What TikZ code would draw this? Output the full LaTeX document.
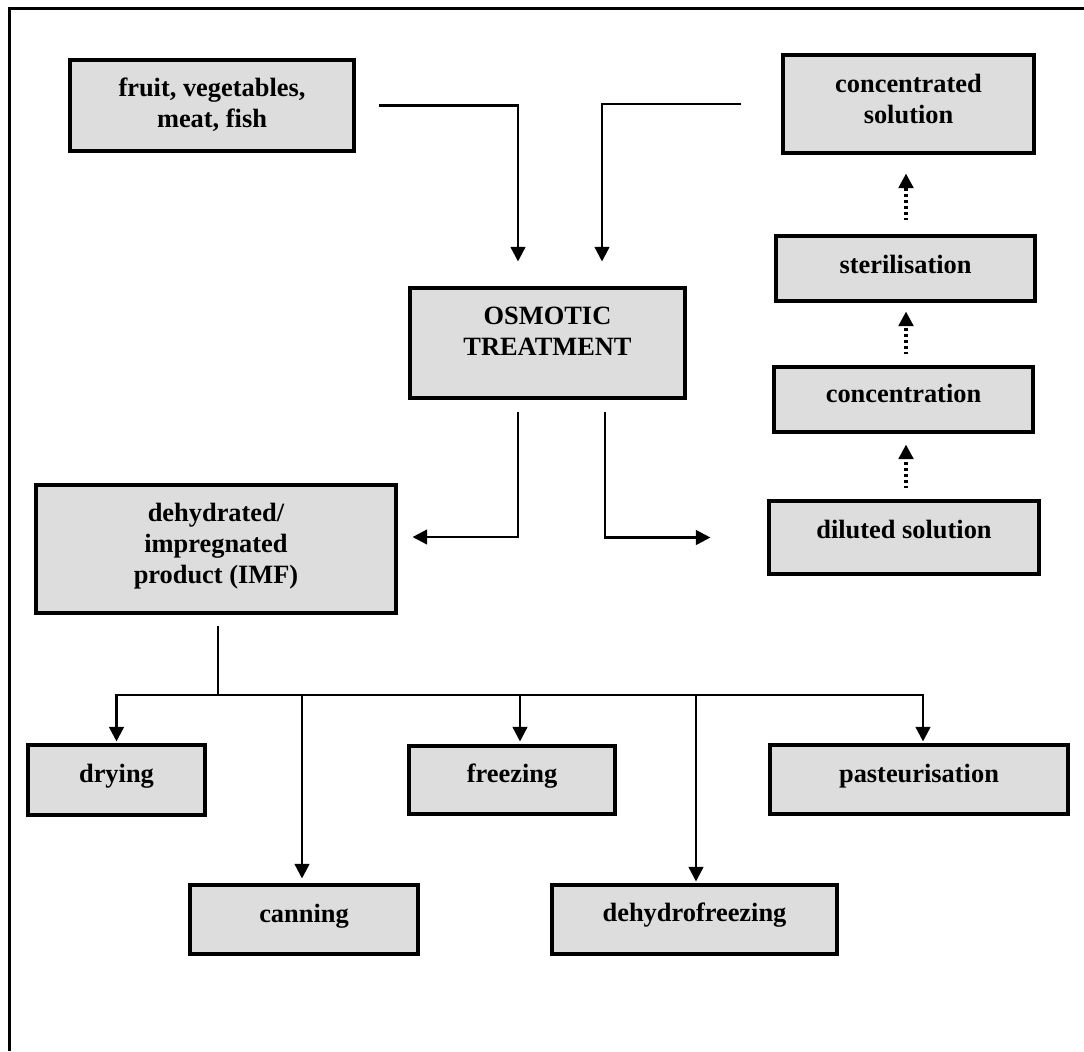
\documentclass[tikz,border=0pt]{standalone}
\usepackage{fontspec}
\setmainfont{Liberation Serif}
\usetikzlibrary{arrows.meta}
\definecolor{boxgray}{RGB}{221,221,221}
\begin{document}
\begin{tikzpicture}[x=0.75pt,y=-0.75pt,
  box/.style={draw=black, line width=2.3pt, fill=boxgray, inner sep=0pt},
  txt/.style={font=\bfseries\fontsize{19.8}{23.25}\selectfont, align=center, inner sep=0pt, anchor=base},
  conn/.style={line width=1.9pt},
  arr/.style={conn, -{Triangle[length=11pt,width=11pt]}},
  darr/.style={line width=2.6pt, dash pattern=on 2.2pt off 2.2pt, -{Triangle[length=11pt,width=11pt]}}]
\useasboundingbox (0,0) rectangle (1084,1051);
% frame
\draw[line width=2.25pt] (9,1051) -- (9,8) -- (1084,8);

% boxes
\node[box, minimum width=213pt, minimum height=68.25pt] (fruit) at (212,105.5) {};
\node[box, minimum width=188.25pt, minimum height=73.5pt] (conc) at (908.5,104) {};
\node[box, minimum width=206.25pt, minimum height=82.5pt] (osm) at (547.5,343) {};
\node[box, minimum width=194.25pt, minimum height=48.75pt] (steril) at (905.5,268.5) {};
\node[box, minimum width=194.25pt, minimum height=48.75pt] (concn) at (903.5,399.5) {};
\node[box, minimum width=202.5pt, minimum height=54.75pt] (dil) at (904,537.5) {};
\node[box, minimum width=270pt, minimum height=96pt] (dehy) at (216,549) {};
\node[box, minimum width=132.75pt, minimum height=52.5pt] (dry) at (116.5,780) {};
\node[box, minimum width=171pt, minimum height=51.75pt] (can) at (304,919.5) {};
\node[box, minimum width=154.5pt, minimum height=51pt] (frz) at (512,780) {};
\node[box, minimum width=213.75pt, minimum height=51.75pt] (dfz) at (694.5,919.5) {};
\node[box, minimum width=223.5pt, minimum height=51.75pt] (past) at (919,779.5) {};

% texts (base anchor = baseline of last line)
\node[txt] (tfruit) at (212,127) {fruit, vegetables,\\meat, fish};
\node[txt] (tconc) at (908.5,123) {concentrated\\solution};
\node[txt] (tosm) at (547.5,355) {OSMOTIC\\TREATMENT};
\node[txt] (tsteril) at (905.5,273) {sterilisation};
\node[txt] (tconcn) at (903.5,402) {concentration};
\node[txt] (tdil) at (904,538) {diluted solution};
\node[txt] (tdehy) at (216,583) {dehydrated/\\impregnated\\product (IMF)};
\node[txt] (tdry) at (116.5,782) {drying};
\node[txt] (tcan) at (304,922) {canning};
\node[txt] (tfrz) at (512,782) {freezing};
\node[txt] (tdfz) at (694.5,921) {dehydrofreezing};
\node[txt] (tpast) at (919,782) {pasteurisation};

% helper coordinates
\coordinate (xa) at (518,0);
\coordinate (xb) at (602,0);
\coordinate (xc) at (605,0);
\coordinate (dx) at (906,0);
\coordinate (busR) at (923,695);
\coordinate (cj) at (302,695);
\coordinate (fj) at (520,695);
\coordinate (dj) at (696,695);
\coordinate (hj) at (218,695);

% top connectors
\draw[arr, shorten <=17.25pt, shorten >=18.75pt] (fruit.east) -| (osm.north -| xa);
\draw[arr, shorten <=30pt, shorten >=18.75pt] (conc.west) -| (osm.north -| xb);
\draw[arr, shorten <=9pt, shorten >=11.25pt] (osm.south -| xa) |- ([yshift=9pt]dehy.east);
\draw[arr, shorten <=9pt, shorten >=42.75pt] (osm.south -| xc) |- (dil.west);

% dotted chain
\draw[darr, shorten <=8.25pt, shorten >=8.25pt] (dil.north -| dx) -- (concn.south -| dx);
\draw[darr, shorten <=8.25pt, shorten >=6.75pt] (concn.north -| dx) -- (steril.south -| dx);
\draw[darr, shorten <=10.5pt, shorten >=14.25pt] (steril.north -| dx) -- (conc.south -| dx);

% bottom tree
\draw[conn, shorten <=8.25pt] (dehy.south -| hj) -- (hj);
\draw[conn, {Triangle[length=11pt,width=11pt]}-{Triangle[length=11pt,width=11pt]}, shorten <=1.5pt, shorten >=1.5pt] (dry.north) |- (busR) -- (past.north -| busR);
\draw[arr, shorten >=3.75pt] (cj) -- (can.north -| cj);
\draw[arr, shorten >=2.25pt] (fj) -- (frz.north -| fj);
\draw[arr, shorten >=1.5pt] (dj) -- (dfz.north -| dj);
\end{tikzpicture}
\end{document}
